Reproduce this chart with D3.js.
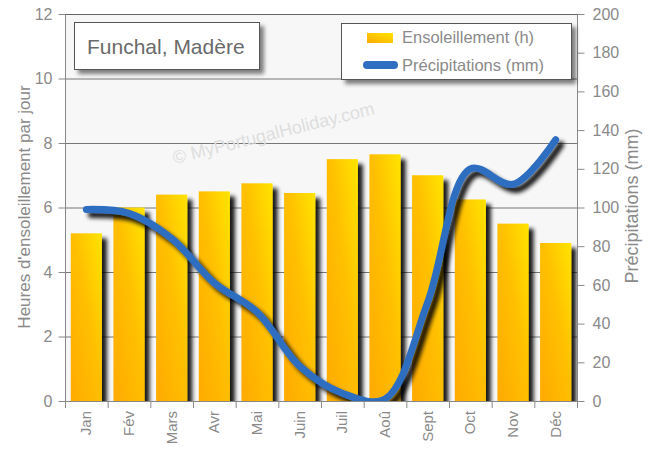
<!DOCTYPE html>
<html><head><meta charset="utf-8">
<script src="https://cdn.jsdelivr.net/npm/d3@7/dist/d3.min.js"></script>
<style>
body{margin:0;background:#fff;}
text{font-family:"Liberation Sans",Arial,sans-serif;}
</style></head>
<body><svg id="c" width="650" height="450"></svg>
<script>
const months = ["Jan","Fév","Mars","Avr","Mai","Juin","Juil","Aoû","Sept","Oct","Nov","Déc"];
const sunshine = [5.2,6.0,6.4,6.5,6.75,6.45,7.5,7.65,7.0,6.25,5.5,4.9];
const rainfall = [99,97,84,61,46,18,4,1,51,120,112,135];
const leftTicks = [0,2,4,6,8,10,12];
const rightTicks = [0,20,40,60,80,100,120,140,160,180,200];

const svg = d3.select("#c");
const M = {l:65, r:577, t:14, b:401};
const x = d3.scaleBand().domain(months).range([M.l, M.r]).paddingInner(0.27).paddingOuter(0.135);
const xb = d3.scaleBand().domain(months).range([M.l, M.r]);
const yL = d3.scaleLinear().domain([0,12]).range([M.b, M.t]);
const yR = d3.scaleLinear().domain([0,200]).range([M.b, M.t]);

const defs = svg.append("defs");
const g1 = defs.append("linearGradient").attr("id","barg").attr("x1",0).attr("y1",1).attr("x2",1).attr("y2",0);
g1.append("stop").attr("offset","0%").attr("stop-color","#ffaa00");
g1.append("stop").attr("offset","55%").attr("stop-color","#ffc000");
g1.append("stop").attr("offset","100%").attr("stop-color","#ffe400");
const g2 = defs.append("linearGradient").attr("id","legg").attr("x1",0).attr("y1",1).attr("x2",1).attr("y2",0);
g2.append("stop").attr("offset","0%").attr("stop-color","#ffaa00");
g2.append("stop").attr("offset","100%").attr("stop-color","#ffe400");
const f = defs.append("filter").attr("id","sh").attr("x","-20%").attr("y","-20%").attr("width","150%").attr("height","150%");
f.append("feGaussianBlur").attr("in","SourceAlpha").attr("stdDeviation",2).attr("result","b");
f.append("feOffset").attr("in","b").attr("dx",5).attr("dy",5).attr("result","o");
f.append("feComponentTransfer").attr("in","o").attr("result","o2").append("feFuncA").attr("type","linear").attr("slope",0.9);
const fm = f.append("feMerge"); fm.append("feMergeNode").attr("in","o2"); fm.append("feMergeNode").attr("in","SourceGraphic");
const fb = defs.append("filter").attr("id","shb").attr("x","-20%").attr("y","-20%").attr("width","150%").attr("height","150%");
fb.append("feGaussianBlur").attr("in","SourceAlpha").attr("stdDeviation",2).attr("result","b");
fb.append("feOffset").attr("in","b").attr("dx",4).attr("dy",4).attr("result","o");
fb.append("feComponentTransfer").attr("in","o").attr("result","o2").append("feFuncA").attr("type","linear").attr("slope",0.5);
const fbm = fb.append("feMerge"); fbm.append("feMergeNode").attr("in","o2"); fbm.append("feMergeNode").attr("in","SourceGraphic");
defs.append("clipPath").attr("id","clip").append("rect").attr("x",M.l).attr("y",M.t).attr("width",M.r-M.l).attr("height",M.b-M.t);

// plot background
svg.append("rect").attr("x",M.l).attr("y",M.t).attr("width",M.r-M.l).attr("height",M.b-M.t).attr("fill","#f7f7f7");
// grid
svg.append("g").selectAll("line").data(leftTicks).join("line")
  .attr("x1",M.l).attr("x2",M.r).attr("y1",d=>yL(d)+0.5).attr("y2",d=>yL(d)+0.5)
  .attr("stroke","#777").attr("stroke-width",1);

// watermark
svg.append("text").attr("transform","translate(275,139) rotate(-14)").attr("text-anchor","middle")
  .attr("font-size",18).attr("fill","#dedede").text("© MyPortugalHoliday.com");

const plot = svg.append("g").attr("clip-path","url(#clip)");
plot.append("g").selectAll("rect").data(months).join("rect")
  .attr("x",d=>x(d)).attr("width",x.bandwidth())
  .attr("y",(d,i)=>yL(sunshine[i])).attr("height",(d,i)=>M.b-yL(sunshine[i]))
  .attr("fill","url(#barg)").attr("filter","url(#sh)");

const line = d3.line().x((d,i)=>xb(months[i])+xb.bandwidth()/2).y(d=>yR(d)).curve(d3.curveCatmullRom.alpha(0.5));
plot.append("path").datum(rainfall).attr("d",line).attr("fill","none").attr("stroke","#2f6ec0")
  .attr("stroke-width",7).attr("stroke-linecap","round").attr("filter","url(#sh)");

// axes lines
svg.append("line").attr("x1",M.l+0.5).attr("x2",M.l+0.5).attr("y1",M.t).attr("y2",M.b).attr("stroke","#888");
svg.append("line").attr("x1",M.r+0.5).attr("x2",M.r+0.5).attr("y1",M.t).attr("y2",M.b).attr("stroke","#888");
svg.append("line").attr("x1",M.l).attr("x2",M.r).attr("y1",M.b+0.5).attr("y2",M.b+0.5).attr("stroke","#888");
svg.append("line").attr("x1",M.l).attr("x2",M.r).attr("y1",M.t+0.5).attr("y2",M.t+0.5).attr("stroke","#666");

const tc = "#8a8a8a";
const aL = svg.append("g").attr("transform",`translate(${M.l+0.5},0)`).call(d3.axisLeft(yL).tickValues(leftTicks).tickSize(7).tickPadding(6));
const aR = svg.append("g").attr("transform",`translate(${M.r+0.5},0)`).call(d3.axisRight(yR).tickValues(rightTicks).tickSize(7).tickPadding(8));
[aL,aR].forEach(a=>{a.select(".domain").remove(); a.selectAll("line").attr("stroke","#888"); a.selectAll("text").attr("fill",tc).attr("font-size",16).attr("font-family","Liberation Sans, Arial, sans-serif");});

// x axis ticks at band boundaries
svg.append("g").selectAll("line").data(months.concat(["end"])).join("line")
  .attr("x1",(d,i)=>M.l+0.5+i*xb.bandwidth()).attr("x2",(d,i)=>M.l+0.5+i*xb.bandwidth())
  .attr("y1",M.b).attr("y2",M.b+7).attr("stroke","#888");
svg.append("g").selectAll("text").data(months).join("text")
  .attr("transform",d=>`translate(${xb(d)+xb.bandwidth()/2+5},${M.b+10}) rotate(-90)`)
  .attr("text-anchor","end").attr("font-size",15).attr("fill",tc).text(d=>d);

// axis titles
svg.append("text").attr("transform","translate(30,207) rotate(-90)").attr("text-anchor","middle")
  .attr("font-size",17).attr("fill",tc).text("Heures d'ensoleillement par jour");
svg.append("text").attr("transform","translate(638,206) rotate(-90)").attr("text-anchor","middle")
  .attr("font-size",18).attr("fill",tc).text("Précipitations (mm)");

// title box
svg.append("rect").attr("x",74.5).attr("y",22.5).attr("width",185).attr("height",47).attr("fill","#fff").attr("stroke","#555").attr("filter","url(#shb)");
svg.append("text").attr("x",87).attr("y",54).attr("font-size",21).attr("fill","#6a6a6a").text("Funchal, Madère");

// legend box
svg.append("rect").attr("x",341.5).attr("y",23.5).attr("width",230).attr("height",56).attr("fill","#fff").attr("stroke","#555").attr("filter","url(#shb)");
svg.append("rect").attr("x",367).attr("y",33).attr("width",26).attr("height",10).attr("fill","url(#legg)");
svg.append("text").attr("x",402).attr("y",43).attr("font-size",16.5).attr("fill",tc).text("Ensoleillement (h)");
svg.append("line").attr("x1",367).attr("x2",394).attr("y1",65).attr("y2",65).attr("stroke","#2f6ec0").attr("stroke-width",8).attr("stroke-linecap","round");
svg.append("text").attr("x",402).attr("y",71).attr("font-size",16.5).attr("fill",tc).text("Précipitations (mm)");
</script></body></html>
